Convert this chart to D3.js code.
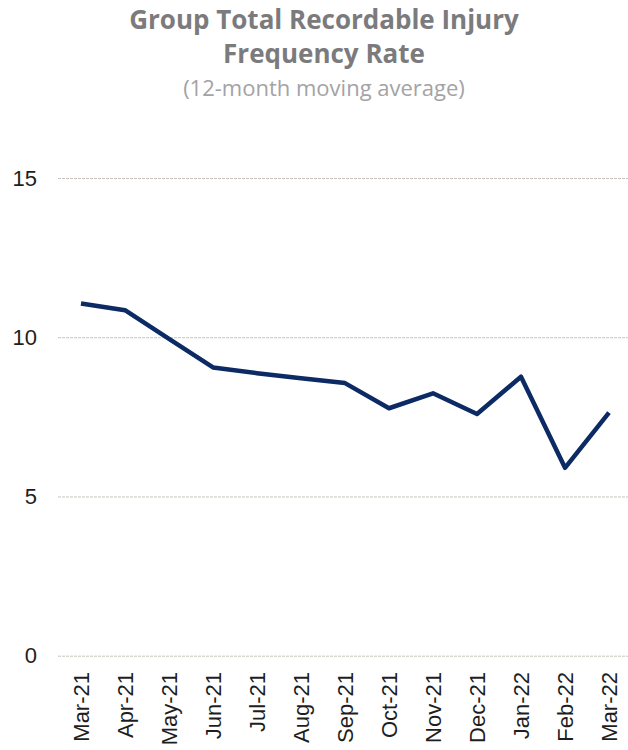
<!DOCTYPE html>
<html>
<head>
<meta charset="utf-8">
<script src="https://cdn.jsdelivr.net/npm/d3@7"></script>
<style>
  html, body { margin: 0; padding: 0; background: #ffffff; }
  svg { display: block; }
</style>
</head>
<body>
<svg id="chart" width="628" height="750"></svg>
<script>
const months = ["Mar-21","Apr-21","May-21","Jun-21","Jul-21","Aug-21","Sep-21","Oct-21","Nov-21","Dec-21","Jan-22","Feb-22","Mar-22"];
const trifr = [11.06, 10.85, 9.95, 9.05, 8.87, 8.71, 8.56, 7.77, 8.24, 7.59, 8.76, 5.90, 7.63];
const yTicks = [0, 5, 10, 15];
const titleLines = ["Group Total Recordable Injury", "Frequency Rate"];
const subtitle = "(12-month moving average)";

const svg = d3.select("#chart");

const x = d3.scalePoint().domain(months).range([81, 609]);
const y = d3.scaleLinear().domain([0, 15]).range([655.7, 178]);

// Title
svg.append("g").selectAll("text").data(titleLines).join("text")
  .attr("x", 324).attr("y", (d, i) => 29 + i * 34)
  .attr("text-anchor", "middle")
  .attr("font-family", "'Open Sans', Lato, sans-serif")
  .attr("font-weight", 700)
  .attr("font-size", 26)
  .attr("fill", "#7b7b7d")
  .text(d => d);

svg.append("text")
  .attr("x", 324).attr("y", 96)
  .attr("text-anchor", "middle")
  .attr("font-family", "'Open Sans', Lato, sans-serif")
  .attr("font-size", 22)
  .attr("fill", "#a3a3a5")
  .text(subtitle);

// Y axis with gridlines
const yAxis = svg.append("g")
  .attr("transform", "translate(58,0)")
  .call(d3.axisLeft(y).tickValues(yTicks).tickFormat(d3.format("d"))
    .tickSizeInner(-570).tickSizeOuter(0).tickPadding(21));
yAxis.select(".domain").remove();
yAxis.selectAll(".tick line")
  .attr("stroke", "#c9c4ba")
  .attr("stroke-width", 1)
  .attr("stroke-dasharray", "3,1");
yAxis.selectAll(".tick text")
  .attr("font-family", "'Liberation Sans', Arial, sans-serif")
  .attr("font-size", 22)
  .attr("fill", "#1e1e1e");

// X axis labels
const xAxis = svg.append("g")
  .attr("transform", "translate(0,656)")
  .call(d3.axisBottom(x).tickSize(0).tickPadding(0));
xAxis.select(".domain").remove();
xAxis.selectAll(".tick text")
  .attr("font-family", "'Liberation Sans', Arial, sans-serif")
  .attr("font-size", 22)
  .attr("fill", "#1e1e1e")
  .attr("text-anchor", "end")
  .attr("transform", "translate(0,16) rotate(-90)")
  .attr("x", 0)
  .attr("y", 0)
  .attr("dy", "0.35em");

// Line
const line = d3.line()
  .x((d, i) => x(months[i]))
  .y(d => y(d));

svg.append("path")
  .datum(trifr)
  .attr("d", line)
  .attr("fill", "none")
  .attr("stroke", "#0c2a63")
  .attr("stroke-width", 4.5)
  .attr("stroke-linejoin", "round")
  .attr("stroke-linecap", "butt");
</script>
</body>
</html>
